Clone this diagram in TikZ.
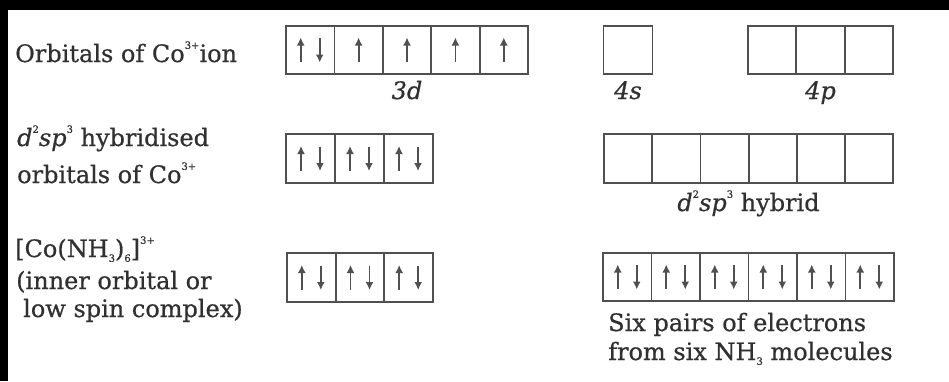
\documentclass[tikz,border=0pt]{standalone}
\usepackage{fontspec}
\setmainfont{DejaVu Serif}[FakeBold=0.6]
\usetikzlibrary{calc,arrows.meta}
\definecolor{ink}{HTML}{303030}
\definecolor{boxc}{HTML}{505050}
\newcommand{\ElUp}[2]{\draw[elec] ($(#1.center)+(#2,12)$) -- ($(#1.center)+(#2,-12.5)$);}
\newcommand{\ElDn}[2]{\draw[elec] ($(#1.center)+(#2,-12)$) -- ($(#1.center)+(#2,12.5)$);}
\newcommand{\ElPair}[1]{\ElUp{#1}{-9.5}\ElDn{#1}{9.5}}
\newcommand{\Sup}[1]{\raisebox{0.55em}{\fontsize{10}{10}\selectfont #1}}
\newcommand{\Sub}[1]{\raisebox{-0.2em}{\fontsize{10}{10}\selectfont #1}}
\begin{document}
\begin{tikzpicture}[x=1pt,y=-1pt,
  orb/.style={draw=boxc, line width=1.8pt, minimum width=48.4pt, minimum height=48.5pt, inner sep=0pt, outer sep=0pt},
  elec/.style={draw=boxc, line width=1.8pt, -{Latex[length=8pt,width=8pt]}},
  lab/.style={text=ink, font=\fontsize{24}{29}\selectfont, inner sep=0pt, anchor=base west},
  sub/.style={text=ink, font=\fontsize{24}{29}\selectfont\itshape, inner sep=0pt, anchor=base}]
\useasboundingbox (0,0) rectangle (949,381);
\fill[white] (0,0) rectangle (949,381);
\fill[black] (0,0) rectangle (949,10);
\fill[black] (0,0) rectangle (8,381);

% row 1
\foreach \i/\x in {1/310.2,2/358.6,3/407,4/455.4,5/503.8}
  \node[orb] (d\i) at (\x,50) {};
\node[orb, minimum width=49pt] (s1) at (628,50) {};
\foreach \i/\x in {1/772.2,2/820.5,3/868.8}
  \node[orb] (p\i) at (\x,50) {};
\ElPair{d1}
\ElUp{d2}{0}\ElUp{d3}{0}\ElUp{d4}{0}\ElUp{d5}{0}
\node[sub] (l3d) at (407,99) {3d};
\node[sub] (l4s) at (628,99) {4s};
\node[sub] (l4p) at (820.5,99) {4p};

% row 2
\foreach \i/\x in {1/310.5,2/359.5,3/408.5}
  \node[orb] (h\i) at (\x,158.5) {};
\foreach \i in {1,...,3} {\ElPair{h\i}}
\foreach \i in {1,...,6}
  \node[orb, minimum width=48.2pt] (q\i) at ({628.1+48.2*(\i-1)},158.5) {};
\node[lab, anchor=base] (lhyb) at (748.5,211) {\textit{d}\Sup{2}\textit{sp}\Sup{3} hybrid};

% row 3
\foreach \i/\x in {1/311.3,2/360,3/408.7}
  \node[orb] (c\i) at (\x,277.5) {};
\foreach \i in {1,...,3} {\ElPair{c\i}}
\foreach \i in {1,...,6}
  \node[orb, minimum width=48.5pt] (n\i) at ({627.25+48.5*(\i-1)},277) {};
\foreach \i in {1,...,6} {\ElPair{n\i}}

% left labels
\node[lab] (t1) at (15,62) {Orbitals of Co\Sup{3+}ion};
\node[lab] (t2a) at (17,146) {\textit{d}\Sup{2}\textit{sp}\Sup{3} hybridised};
\node[lab] (t2b) at (17,183) {orbitals of Co\Sup{3+}};
\node[lab] (t3a) at (15,257) {[Co(NH\Sub{3})\Sub{6}]\Sup{3+}};
\node[lab] (t3b) at (16,289) {(inner orbital or};
\node[lab] (t3c) at (23,317) {low spin complex)};

% right labels
\node[lab] (r1) at (608,331) {Six pairs of electrons};
\node[lab] (r2) at (608,360) {from six NH\Sub{3} molecules};
\end{tikzpicture}
\end{document}
